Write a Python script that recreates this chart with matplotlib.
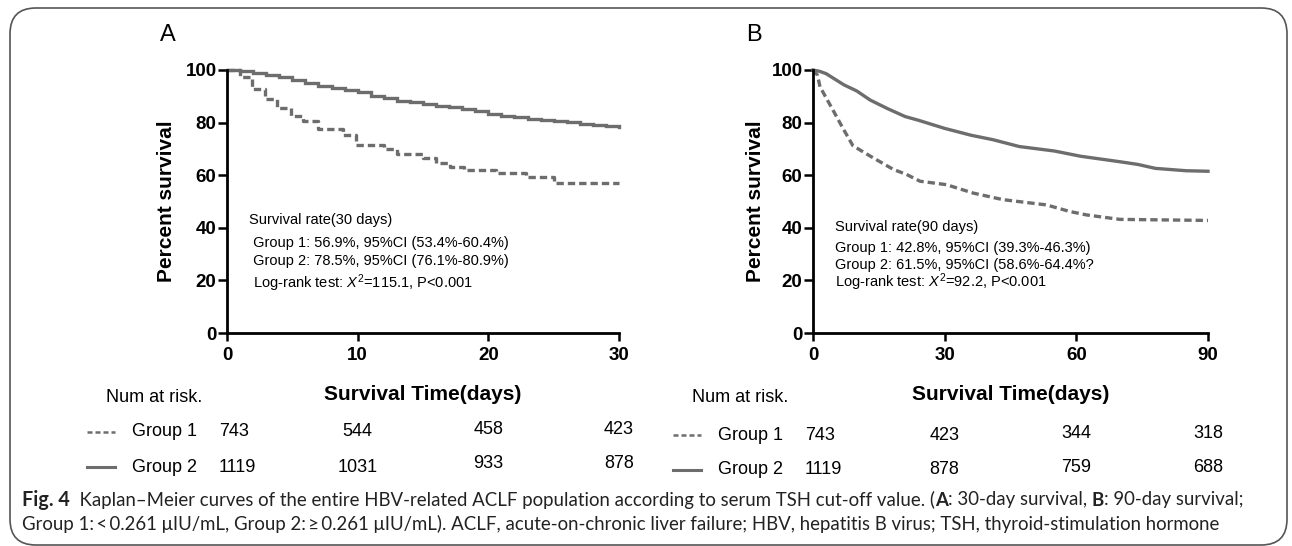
import matplotlib
matplotlib.use("Agg")
import matplotlib.pyplot as plt
from matplotlib.lines import Line2D
from matplotlib.patches import FancyBboxPatch
import matplotlib.transforms as mtransforms

plt.rcParams['font.family'] = ['Liberation Sans', 'DejaVu Sans']
plt.rcParams['mathtext.fontset'] = 'custom'
plt.rcParams['mathtext.rm'] = 'Liberation Sans'
plt.rcParams['mathtext.it'] = 'Liberation Sans:italic'

W, H = 1292, 546

# panel A: 30-day survival
a_t1 = [0, 1.0, 1.9, 2.9, 3.8, 4.9, 5.8, 7.0, 8.9, 9.9, 12.0, 13.0, 15.0,
        16.0, 17.1, 18.1, 20.6, 22.9, 25.0, 28.5, 30]
a_s1 = [100, 97.4, 92.8, 89.0, 85.6, 82.4, 80.5, 77.4, 75.1, 71.3, 70.0, 68.2,
        66.6, 64.6, 63.3, 61.8, 60.8, 59.3, 57.1, 56.9, 56.9]
a_t2 = [0, 1, 2, 3, 4, 5, 6, 7, 8, 9, 10, 11, 12, 13, 14, 15, 16, 17, 18, 19,
        20, 21, 22, 23, 24, 25, 26, 27, 28, 29, 30]
a_s2 = [100, 99.6, 98.8, 98.0, 97.2, 96.2, 95.0, 94.0, 93.2, 92.3, 91.5, 90.3,
        89.2, 88.4, 87.8, 87.2, 86.5, 85.8, 85.0, 84.3, 83.4, 82.6, 82.0, 81.5,
        81.0, 80.6, 80.1, 79.6, 79.1, 78.7, 78.5]

# panel B: 90-day survival
b_t1 = [0, 1, 1.6, 3.1, 4.6, 6.9, 9.1, 13, 18.3, 21.3, 24.4, 30.4, 36.5, 43.3,
        53.2, 58.5, 62.3, 69.9, 80, 90]
b_s1 = [100, 98.1, 93.6, 89.1, 84.6, 77.6, 71.2, 67.3, 62.2, 60.3, 57.7, 56.4,
        53.2, 50.7, 48.7, 46.2, 44.9, 43.2, 43.0, 42.8]
b_t2 = [0, 1.5, 3, 5, 7, 10, 13, 17, 21, 24, 30, 36, 41, 47, 55, 61, 70, 74,
        78, 85, 90]
b_s2 = [100, 99.5, 98.6, 96.5, 94.4, 92.0, 88.6, 85.3, 82.3, 80.9, 77.8, 75.2,
        73.5, 70.9, 69.2, 67.2, 65.1, 64.1, 62.6, 61.7, 61.5]

a_ticks = [0, 10, 20, 30]
b_ticks = [0, 30, 60, 90]
a_risk1 = [743, 544, 458, 423]
a_risk2 = [1119, 1031, 933, 878]
b_risk1 = [743, 423, 344, 318]
b_risk2 = [1119, 878, 759, 688]

a_notes = ["Survival rate(30 days)",
           " Group 1: 56.9%, 95%CI (53.4%-60.4%)",
           " Group 2: 78.5%, 95%CI (76.1%-80.9%)",
           r" Log-rank test: $\mathit{X}^{2}$=115.1, P<0.001"]
b_notes = ["Survival rate(90 days)",
           "Group 1: 42.8%, 95%CI (39.3%-46.3%)",
           "Group 2: 61.5%, 95%CI (58.6%-64.4%?",
           r"Log-rank test: $\mathit{X}^{2}$=92.2, P<0.001"]

GREY = '#6d6d6d'


def fx(x):
    return x / W


def fy(y):
    return 1 - y / H


fig = plt.figure(figsize=(W / 100, H / 100), dpi=100)

# rounded frame
frame = FancyBboxPatch((fx(10), fy(545)), fx(1277), (545 - 8) / H,
                       boxstyle="round,pad=0,rounding_size=0.02",
                       transform=fig.transFigure, fill=False,
                       edgecolor='#555555', linewidth=1.2,
                       mutation_aspect=W / H)
fig.patches.append(frame)


def km_panel(left, right, t1, s1, t2, s2, ticks, letter, notes, note_ys,
             risk1, risk2, rows, steps, ylab_x):
    ax = fig.add_axes([fx(left), fy(333), fx(right - left), (333 - 70) / H])
    ds = 'steps-post' if steps else 'default'
    ax.plot(t2, s2, color=GREY, lw=2.4, drawstyle=ds, clip_on=False,
            solid_joinstyle='miter')
    ax.plot(t1, s1, color=GREY, lw=2.4, drawstyle=ds, clip_on=False,
            linestyle=(0, (2.2, 1.2)))
    ax.set_xlim(0, ticks[-1])
    ax.set_ylim(0, 100)
    ax.set_xticks(ticks)
    ax.set_yticks([0, 20, 40, 60, 80, 100])
    for s in ['top', 'right']:
        ax.spines[s].set_visible(False)
    for s in ['left', 'bottom']:
        ax.spines[s].set_linewidth(2.0)
    ax.tick_params(axis='y', length=6.5, width=1.8, pad=1, labelsize=13.5)
    ax.tick_params(axis='x', length=6, width=1.8, pad=4, labelsize=13.5)
    for lab in ax.get_xticklabels() + ax.get_yticklabels():
        lab.set_fontweight('bold')
    ax.set_ylabel('Percent survival', fontsize=15, fontweight='bold')
    ax.yaxis.set_label_coords(ylab_x, 0.5)
    ax.set_xlabel('Survival Time(days)', fontsize=15, fontweight='bold')
    ax.xaxis.set_label_coords(0.5, -0.198)

    fig.text(fx(left - 67), fy(35), letter, fontsize=17, ha='left', va='center')

    for txt, y in zip(notes, note_ys):
        fig.text(fx(left + 22), fy(y), txt, fontsize=10.5, va='center')

    # number at risk table
    trans = mtransforms.blended_transform_factory(ax.transData, fig.transFigure)
    fig.text(fx(left - 121), fy(398), 'Num at risk.', fontsize=13, va='center')
    y1, y2 = rows
    fig.add_artist(Line2D([fx(left - 140), fx(left - 112)], [fy(y1), fy(y1)],
                          color=GREY, lw=1.8, linestyle=(0, (2, 1.2))))
    fig.add_artist(Line2D([fx(left - 140), fx(left - 112)], [fy(y2), fy(y2)],
                          color=GREY, lw=2.2))
    fig.text(fx(left - 95), fy(y1), 'Group 1', fontsize=13, va='center')
    fig.text(fx(left - 95), fy(y2), 'Group 2', fontsize=13, va='center')
    for i, (t, n1, n2) in enumerate(zip(ticks, risk1, risk2)):
        if i == 0:
            fig.text(fx(left - 8), fy(y1), str(n1), fontsize=13, va='center')
            fig.text(fx(left - 8), fy(y2), str(n2), fontsize=13, va='center')
        else:
            ax.text(t, fy(y1 - 2 * (i > 1)), str(n1), fontsize=13, ha='center',
                    va='center', transform=trans)
            ax.text(t, fy(y2 - 3 * (i > 1)), str(n2), fontsize=13, ha='center',
                    va='center', transform=trans)
    return ax


km_panel(227, 619, a_t1, a_s1, a_t2, a_s2, a_ticks, 'A', a_notes,
         [220, 243, 261, 283], a_risk1, a_risk2, (432, 467), True, -0.13)
km_panel(813, 1208, b_t1, b_s1, b_t2, b_s2, b_ticks, 'B', b_notes,
         [227, 248, 265, 282], b_risk1, b_risk2, (435, 470), False, -0.122)

# caption, drawn piece by piece so the bold bits sit inline
renderer = fig.canvas.get_renderer()
cap_font = ['Lato', 'DejaVu Sans']
cap_size = 13.4
line1 = [("Fig. 4", 'bold', 14.2),
         ("  Kaplan\u2013Meier curves of the entire HBV-related ACLF population "
          "according to serum TSH cut-off value. (", 'normal', cap_size),
         ("A", 'bold', cap_size), (": 30-day survival, ", 'normal', cap_size),
         ("B", 'bold', cap_size), (": 90-day survival;", 'normal', cap_size)]
line2 = [("Group 1:\u2009<\u20090.261 \u03bcIU/mL, Group 2:\u2009\u2265\u20090.261 "
          "\u03bcIU/mL). ACLF, acute-on-chronic liver failure; HBV, hepatitis B "
          "virus; TSH, thyroid-stimulation hormone", 'normal', cap_size)]
for parts, y in [(line1, 500), (line2, 524)]:
    x = 22
    for txt, wt, sz in parts:
        t = fig.text(fx(x), fy(y), txt, fontsize=sz, fontweight=wt,
                     family=cap_font, va='center', color='#222222')
        x += t.get_window_extent(renderer).width

fig.savefig('out.png', dpi=100)
